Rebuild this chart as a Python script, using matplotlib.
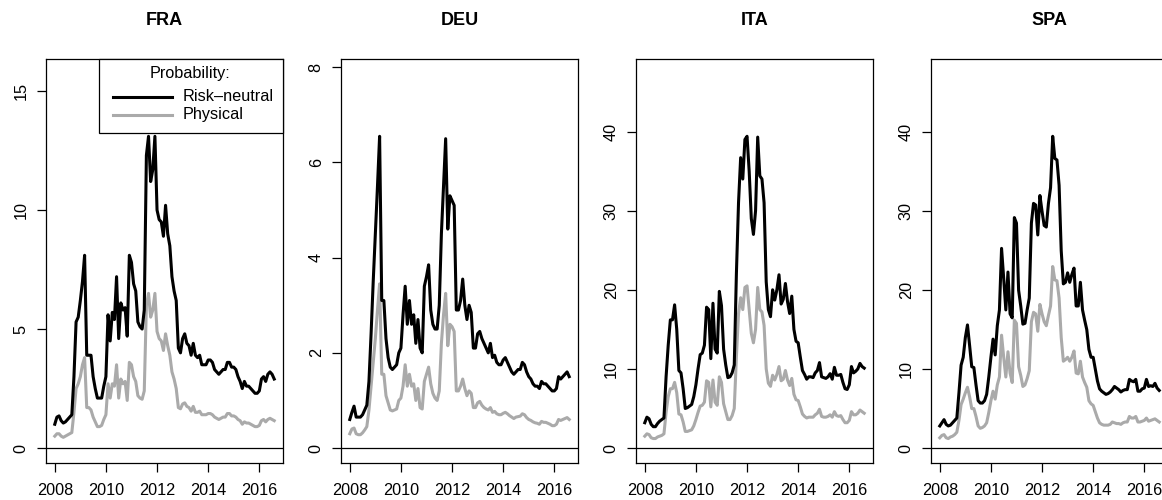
import numpy as np
import matplotlib.pyplot as plt
from matplotlib.patches import Rectangle
from matplotlib.lines import Line2D

plt.rcParams['font.family'] = ['Liberation Sans', 'DejaVu Sans']

# monthly observations, Jan 2008 .. Aug 2016
months = 2008 + np.arange(104) / 12.0
countries = ['FRA', 'DEU', 'ITA', 'SPA']

fra_rn = [1.0, 1.3, 1.35, 1.15, 1.05, 1.1, 1.2, 1.3, 1.4, 3.0, 5.3, 5.5,
          6.2, 7.0, 8.1, 3.9, 3.9, 3.9, 3.0, 2.5, 2.1, 2.1, 2.1, 2.6,
          3.0, 5.6, 4.5, 5.7, 5.4, 7.2, 4.6, 6.1, 5.8, 5.9, 4.7, 8.1,
          7.8, 6.9, 6.6, 5.3, 5.1, 5.0, 5.8, 12.3, 13.1, 11.2, 11.7, 13.1,
          10.0, 9.6, 9.5, 8.9, 10.2, 9.0, 8.5, 7.2, 6.6, 6.2, 4.2, 4.0,
          4.6, 4.8, 4.4, 4.3, 3.9, 4.4, 3.9, 3.8, 3.9, 3.5, 3.5, 3.5,
          3.7, 3.7, 3.6, 3.3, 3.2, 3.1, 3.2, 3.3, 3.3, 3.6, 3.6, 3.4,
          3.4, 3.3, 3.0, 2.8, 2.5, 2.8, 2.6, 2.6, 2.5, 2.4, 2.3, 2.3,
          2.4, 2.9, 3.0, 2.8, 3.1, 3.2, 3.1, 2.9]
fra_ph = [0.5, 0.6, 0.6, 0.5, 0.45, 0.5, 0.55, 0.6, 0.65, 1.5, 2.5, 2.7,
          3.0, 3.5, 3.8, 1.7, 1.7, 1.6, 1.3, 1.1, 0.9, 0.9, 0.95, 1.2,
          1.4, 2.7, 2.1, 2.7, 2.6, 3.5, 2.1, 2.9, 2.7, 2.8, 2.0, 3.6,
          3.5, 3.0, 2.8, 2.2, 2.1, 2.05, 2.4, 6.0, 6.5, 5.5, 5.8, 6.5,
          4.9, 4.6, 4.5, 4.1, 4.8, 4.3, 3.9, 3.2, 2.9, 2.5, 1.7, 1.65,
          1.85, 1.9, 1.75, 1.7, 1.55, 1.75, 1.5, 1.5, 1.55, 1.4, 1.4, 1.4,
          1.45, 1.45, 1.4, 1.3, 1.25, 1.2, 1.25, 1.3, 1.3, 1.45, 1.45, 1.35,
          1.35, 1.3, 1.2, 1.15, 1.0, 1.1, 1.05, 1.05, 1.0, 0.95, 0.9, 0.9,
          0.95, 1.15, 1.2, 1.1, 1.2, 1.25, 1.2, 1.15]

deu_rn = [0.6, 0.75, 0.88, 0.65, 0.65, 0.65, 0.7, 0.8, 0.9, 1.4, 2.4, 3.5,
          4.5, 5.5, 6.55, 3.1, 3.1, 2.3, 1.9, 1.7, 1.65, 1.7, 1.75, 2.0,
          2.1, 2.8, 3.4, 2.6, 3.1, 2.6, 2.8, 2.2, 2.7, 2.1, 2.0, 3.4,
          3.6, 3.85, 2.9, 2.6, 2.5, 2.5, 3.0, 4.5, 5.5, 6.5, 4.6, 5.3,
          5.2, 5.1, 2.9, 2.9, 3.1, 3.55, 3.0, 2.7, 3.0, 2.85, 2.1, 2.1,
          2.4, 2.45, 2.3, 2.2, 2.1, 2.0, 2.2, 1.9, 1.95, 1.8, 1.75, 1.75,
          1.85, 1.9, 1.8, 1.7, 1.6, 1.55, 1.6, 1.65, 1.65, 1.8, 1.75, 1.6,
          1.5, 1.45, 1.35, 1.3, 1.3, 1.25, 1.4, 1.35, 1.35, 1.3, 1.25, 1.2,
          1.2, 1.25, 1.5, 1.45, 1.5, 1.55, 1.6, 1.5]
deu_ph = [0.3, 0.4, 0.42, 0.3, 0.28, 0.28, 0.32, 0.38, 0.45, 0.8, 1.3, 1.8,
          2.3, 2.9, 3.45, 1.55, 1.55, 1.1, 0.95, 0.8, 0.78, 0.8, 0.82, 1.0,
          1.05, 1.3, 1.75, 1.3, 1.55, 1.3, 1.35, 1.0, 1.25, 0.85, 0.82, 1.4,
          1.55, 1.7, 1.35, 1.15, 1.05, 1.0, 1.2, 2.2, 2.8, 3.25, 2.15, 2.6,
          2.55, 2.45, 1.2, 1.2, 1.3, 1.45, 1.25, 1.1, 1.2, 1.15, 0.85, 0.85,
          0.95, 0.98, 0.9, 0.85, 0.82, 0.8, 0.85, 0.75, 0.77, 0.72, 0.7, 0.7,
          0.73, 0.75, 0.72, 0.68, 0.65, 0.62, 0.65, 0.66, 0.67, 0.72, 0.7, 0.64,
          0.6, 0.58, 0.55, 0.53, 0.52, 0.5, 0.56, 0.54, 0.54, 0.52, 0.5, 0.47,
          0.47, 0.5, 0.6, 0.58, 0.6, 0.62, 0.64, 0.6]

ita_rn = [3.2, 3.9, 3.7, 3.0, 2.7, 2.7, 3.1, 3.4, 3.6, 3.8, 9.0, 13.0,
          16.2, 16.2, 18.1, 15.0, 9.8, 9.5, 7.5, 5.0, 5.1, 5.3, 5.5, 6.5,
          8.0, 10.0, 11.8, 12.0, 13.0, 17.8, 17.5, 11.3, 18.3, 12.5, 12.0, 19.8,
          18.0, 12.5, 10.5, 8.9, 9.0, 9.5, 10.5, 22.0, 31.0, 36.7, 34.0, 39.0,
          39.4, 35.0, 29.0, 27.0, 30.0, 39.3, 34.4, 34.0, 31.0, 21.0, 17.5, 16.6,
          20.0, 18.7, 20.0, 21.9, 18.2, 18.8, 20.8, 18.5, 17.0, 19.2, 15.0, 13.5,
          13.3, 11.5, 9.8, 9.3, 8.7, 9.0, 9.0, 8.9, 9.5, 9.8, 10.8, 9.0,
          8.9, 8.8, 9.0, 9.4, 8.7, 10.2, 9.2, 9.2, 9.3, 8.3, 7.5, 7.4,
          8.0, 10.3, 9.5, 9.7, 10.0, 10.7, 10.3, 10.1]
ita_ph = [1.5, 1.8, 1.7, 1.3, 1.2, 1.2, 1.4, 1.5, 1.6, 1.8, 4.5, 6.5,
          7.5, 7.5, 8.3, 7.0, 4.3, 4.2, 3.3, 2.1, 2.1, 2.2, 2.3, 2.8,
          3.6, 4.5, 5.3, 5.4, 5.8, 8.5, 8.3, 5.2, 8.6, 5.8, 5.4, 9.0,
          8.3, 5.6, 4.6, 3.6, 3.6, 4.1, 5.0, 11.5, 17.0, 19.0, 17.5, 20.3,
          20.5, 17.5, 14.5, 13.3, 15.0, 20.3, 17.5, 17.2, 15.5, 10.0, 8.2, 7.8,
          9.2, 8.6, 9.3, 10.3, 8.5, 8.7, 9.8, 8.6, 7.9, 8.8, 6.8, 6.1,
          6.0, 5.2, 4.3, 4.0, 3.8, 3.9, 3.9, 3.9, 4.2, 4.4, 4.9, 4.0,
          3.9, 3.9, 4.0, 4.2, 3.9, 4.6, 4.1, 4.0, 4.1, 3.6, 3.2, 3.2,
          3.5, 4.6, 4.2, 4.2, 4.4, 4.8, 4.6, 4.4]

spa_rn = [2.8, 3.2, 3.6, 3.0, 2.8, 2.9, 3.2, 3.5, 3.8, 7.0, 10.5, 11.5,
          14.0, 15.6, 13.0, 10.3, 10.2, 8.0, 6.0, 5.7, 5.7, 6.0, 6.8, 9.0,
          11.5, 13.8, 11.8, 15.5, 17.5, 25.3, 21.5, 17.5, 22.3, 17.0, 16.5, 29.2,
          28.5, 20.0, 18.0, 15.7, 15.8, 17.5, 19.0, 28.5, 31.0, 30.8, 27.0, 32.0,
          30.0, 28.2, 28.0, 31.0, 33.0, 39.5, 36.7, 36.5, 33.3, 25.0, 20.8, 21.0,
          22.2, 21.0, 22.0, 22.8, 18.0, 18.0, 21.0, 17.5, 16.2, 15.0, 12.5, 11.5,
          11.5, 10.0, 8.5, 7.5, 7.2, 7.0, 6.8, 6.9, 7.1, 7.4, 7.8, 7.6,
          7.4, 7.1, 7.3, 7.4, 7.4, 8.7, 8.5, 8.4, 8.7, 7.2, 7.2, 7.5,
          7.6, 8.7, 7.8, 7.9, 7.8, 8.2, 7.6, 7.3]
spa_ph = [1.3, 1.6, 1.7, 1.3, 1.2, 1.4, 1.5, 1.7, 2.0, 3.5, 5.5, 6.2,
          7.0, 7.7, 6.5, 5.0, 5.0, 4.0, 2.8, 2.5, 2.6, 2.8, 3.2, 4.5,
          6.0, 7.2, 6.2, 8.0, 9.0, 14.3, 11.5, 9.0, 12.2, 9.5, 8.3, 16.2,
          15.8, 10.3, 9.2, 7.8, 8.0, 8.8, 9.8, 16.0, 17.2, 17.0, 14.8, 18.2,
          17.0, 16.0, 15.5, 16.8, 18.0, 23.0, 21.3, 21.2, 19.0, 14.0, 11.0, 11.2,
          11.5, 11.0, 11.5, 12.3, 9.5, 9.4, 11.0, 9.0, 8.3, 7.7, 6.0, 5.6,
          5.4, 4.6, 3.8, 3.2, 3.0, 2.9, 2.9, 2.9, 3.0, 3.3, 3.2, 3.1,
          3.1, 3.0, 3.2, 3.3, 3.3, 4.0, 3.8, 3.8, 4.0, 3.3, 3.3, 3.4,
          3.5, 3.8, 3.4, 3.5, 3.6, 3.7, 3.5, 3.3]

risk_neutral = [fra_rn, deu_rn, ita_rn, spa_rn]
physical = [fra_ph, deu_ph, ita_ph, spa_ph]
ytick_sets = [[0, 5, 10, 15], [0, 2, 4, 6, 8], [0, 10, 20, 30, 40], [0, 10, 20, 30, 40]]
xtick_years = [2008, 2010, 2012, 2014, 2016]
legend_title = 'Probability:'
legend_labels = ['Risk\u2013neutral', 'Physical']

W, H = 1162, 500
fig = plt.figure(figsize=(W / 100, H / 100), dpi=100)

fs = 11.7
gray = '#aaaaaa'
lw_series = 2.2
x0, x1 = months[0], months[-1]
xpad = 0.04 * (x1 - x0)


def px(x, y):
    # pixel position measured from the top-left corner -> figure fraction
    return x / W, 1 - y / H


for i, name in enumerate(countries):
    left = 46 + 295 * i
    ax = fig.add_axes([left / W, 37 / H, 237 / W, 404 / H])
    rn = np.array(risk_neutral[i])
    ph = np.array(physical[i])
    top = 1.2 * rn.max()

    ax.axhline(0, color='black', lw=0.9, zorder=1)
    ax.plot(months, rn, color='black', lw=lw_series, zorder=3)
    ax.plot(months, ph, color=gray, lw=lw_series, zorder=2)

    ax.set_xlim(x0 - xpad, x1 + xpad)
    ax.set_ylim(-0.04 * top, 1.04 * top)
    ax.set_xticks(xtick_years)
    ax.set_yticks(ytick_sets[i])
    ax.tick_params(direction='out', length=6.5, width=0.9, labelsize=fs, colors='black')
    ax.tick_params(axis='x', pad=8)
    ax.tick_params(axis='y', pad=6)
    plt.setp(ax.get_yticklabels(), rotation=90, va='center')
    for sp in ax.spines.values():
        sp.set_linewidth(0.9)

    fig.text(*px(left + 118.5, 20.8), name, ha='center', va='center',
             fontsize=13, fontweight='bold')

    if i == 0:
        # boxed legend in the top-right corner of the first panel
        bx0, by0 = px(99, 133)
        bx1, by1 = px(left + 237, 59)
        ax.add_patch(Rectangle((bx0, by0), bx1 - bx0, by1 - by0, transform=fig.transFigure,
                               facecolor='white', edgecolor='black', lw=0.9,
                               zorder=5, clip_on=False))
        ax.text(*px(190, 78.3), legend_title, transform=fig.transFigure,
                ha='center', va='baseline', fontsize=fs, zorder=6)
        for lab, col, yy in zip(legend_labels, ['black', gray], [96.5, 114.5]):
            (lx0, ly), (lx1, _) = px(113, yy), px(172, yy)
            ax.add_line(Line2D([lx0, lx1], [ly, ly], transform=fig.transFigure,
                               color=col, lw=lw_series, zorder=6, clip_on=False))
            ax.text(*px(183, yy), lab, transform=fig.transFigure,
                    ha='left', va='center', fontsize=fs, zorder=6)

fig.savefig('out.png', dpi=100)
